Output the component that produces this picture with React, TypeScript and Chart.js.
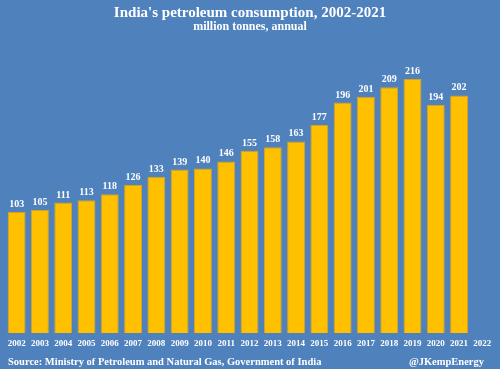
import React, { useEffect, useRef } from "react";
import { Chart, registerables } from "chart.js";

Chart.register(...registerables);

const years = ["2002","2003","2004","2005","2006","2007","2008","2009","2010","2011","2012","2013","2014","2015","2016","2017","2018","2019","2020","2021","2022"];
const consumption = [103,105,111,113,118,126,133,139,140,146,155,158,163,177,196,201,209,216,194,202,null];
const titleText = "India's petroleum consumption, 2002-2021";
const subtitleText = "million tonnes, annual";
const sourceText = "Source: Ministry of Petroleum and Natural Gas, Government of India";
const handleText = "@JKempEnergy";

const BG = "#4F81BD";
const FONT = "'Liberation Serif', 'DejaVu Serif', serif";

const decor = {
  id: "decor",
  beforeDraw(chart: any) {
    const ctx = chart.ctx;
    ctx.save();
    ctx.fillStyle = BG;
    ctx.fillRect(0, 0, chart.width, chart.height);
    ctx.restore();
  },
  afterDatasetsDraw(chart: any) {
    const ctx = chart.ctx;
    ctx.save();
    ctx.fillStyle = "#FFFFFF";
    ctx.textAlign = "center";
    ctx.textBaseline = "alphabetic";
    ctx.font = `bold 10px ${FONT}`;
    const meta = chart.getDatasetMeta(0);
    meta.data.forEach((bar: any, i: number) => {
      const v = consumption[i];
      if (v == null) return;
      ctx.fillText(String(v), bar.x, bar.y - 5);
    });
    ctx.font = `bold 15px ${FONT}`;
    ctx.fillText(titleText, chart.width / 2, 17);
    ctx.font = `bold 12px ${FONT}`;
    ctx.fillText(subtitleText, chart.width / 2, 30);
    ctx.font = `bold 10.5px ${FONT}`;
    ctx.textAlign = "left";
    ctx.fillText(sourceText, 8, 365);
    ctx.textAlign = "right";
    ctx.fillText(handleText, 484, 365);
    ctx.restore();
  },
};

export default function App() {
  const ref = useRef<HTMLCanvasElement>(null);
  useEffect(() => {
    document.body.style.margin = "0";
    const chart = new Chart(ref.current!, {
      type: "bar",
      data: {
        labels: years,
        datasets: [
          {
            data: consumption as any,
            backgroundColor: "#FFC000",
            borderColor: "#D9A21B",
            borderWidth: 1,
            barPercentage: 0.77,
            categoryPercentage: 1,
          },
        ],
      },
      options: {
        animation: false,
        responsive: false,
        maintainAspectRatio: false,
        layout: { padding: { left: 5, right: 6, top: 39, bottom: 15 } },
        plugins: { legend: { display: false }, tooltip: { enabled: false } },
        scales: {
          x: {
            grid: { display: false, drawTicks: false },
            border: { display: false },
            ticks: { color: "#FFFFFF", font: { family: FONT, size: 9, weight: "bold" }, padding: 5, maxRotation: 0, autoSkip: false },
          },
          y: {
            display: false,
            min: 0,
            max: 250,
          },
        },
      },
      plugins: [decor],
    });
    return () => chart.destroy();
  }, []);
  return (
    <div style={{ position: "absolute", left: 0, top: 0, width: 500, height: 369 }}>
      <canvas ref={ref} width={500} height={369} style={{ display: "block" }} />
    </div>
  );
}
